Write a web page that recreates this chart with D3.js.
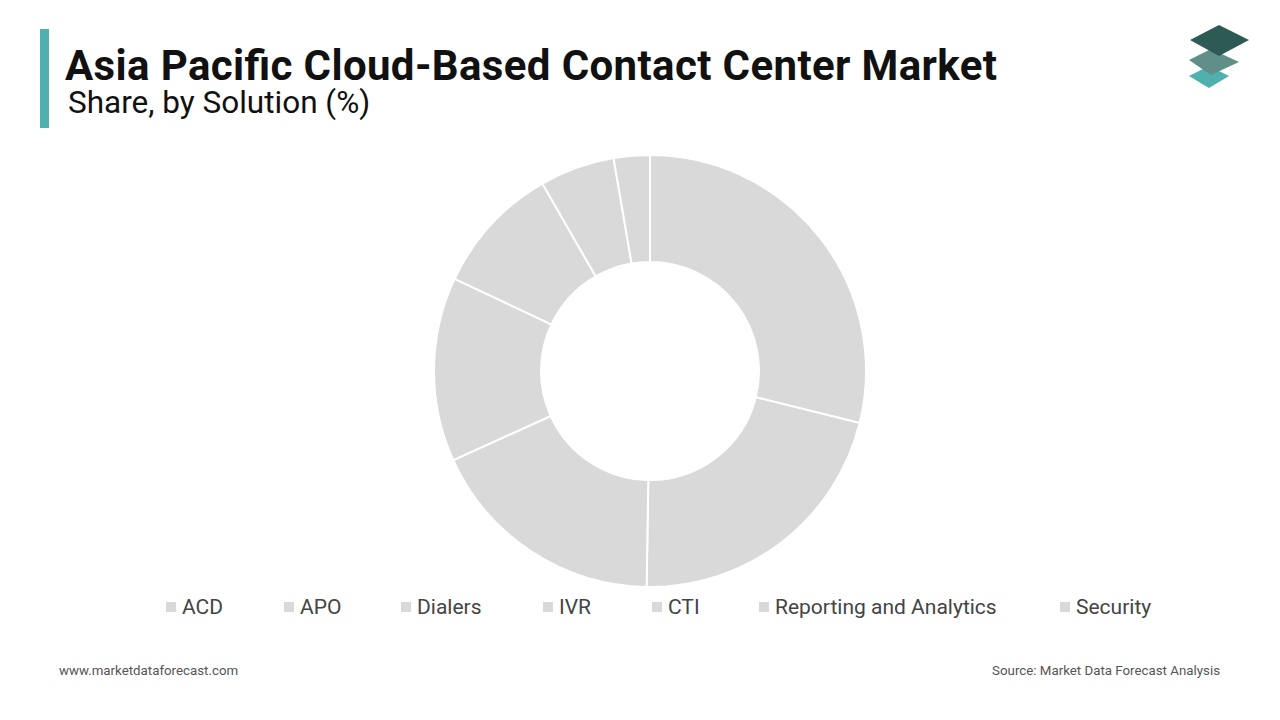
<!DOCTYPE html><html><head><meta charset="utf-8">
<script src="https://cdn.jsdelivr.net/npm/d3@7"></script>
<style>body{margin:0;background:#fff;font-family:Roboto,sans-serif}</style></head><body>
<svg id="c" width="1280" height="720"></svg>
<script>
const categories=["ACD","APO","Dialers","IVR","CTI","Reporting and Analytics","Security"];
const values=[28.9,21.4,18.0,13.8,9.7,5.6,2.7];
const legendX=[166,284,401,543,652,759,1060];
const svg=d3.select("#c");
svg.append("rect").attr("x",40).attr("y",29).attr("width",9).attr("height",99).attr("fill","#4fb0ad");
svg.append("text").attr("x",65).attr("y",80).attr("font-size",42).attr("font-weight",700).attr("fill","#111").attr("textLength",932).text("Asia Pacific Cloud-Based Contact Center Market");
svg.append("text").attr("x",68).attr("y",113).attr("font-size",31.5).attr("fill","#111").text("Share, by Solution (%)");
const lg=svg.append("g");
lg.append("path").attr("d","M1189,76 L1209,66 L1229,76 L1209,88 Z").attr("fill","#4fb0ad");
lg.append("path").attr("d","M1189,60 L1211,49 L1239,62 L1211,75 Z").attr("fill","#5f8f88");
lg.append("path").attr("d","M1190,40 L1219,25 L1249,40 L1219,56 Z").attr("fill","#2e5a55");
const g=svg.append("g").attr("transform","translate(650,371)");
const pie=d3.pie().sort(null).value(d=>d);
const arc=d3.arc().innerRadius(109).outerRadius(216);
g.selectAll("path").data(pie(values)).join("path").attr("d",arc).attr("fill","#d9d9d9").attr("stroke","#fff").attr("stroke-width",2);
const lgd=svg.append("g");
categories.forEach((c,i)=>{
 lgd.append("rect").attr("x",legendX[i]).attr("y",602).attr("width",10).attr("height",10).attr("fill","#d9d9d9");
 lgd.append("text").attr("x",legendX[i]+16).attr("y",614).attr("font-size",21).attr("fill","#444").text(c);
});
svg.append("text").attr("x",59).attr("y",675).attr("font-size",13.3).attr("fill","#555").text("www.marketdataforecast.com");
svg.append("text").attr("x",1220).attr("y",675).attr("text-anchor","end").attr("font-size",13.3).attr("fill","#555").text("Source: Market Data Forecast Analysis");
</script></body></html>
